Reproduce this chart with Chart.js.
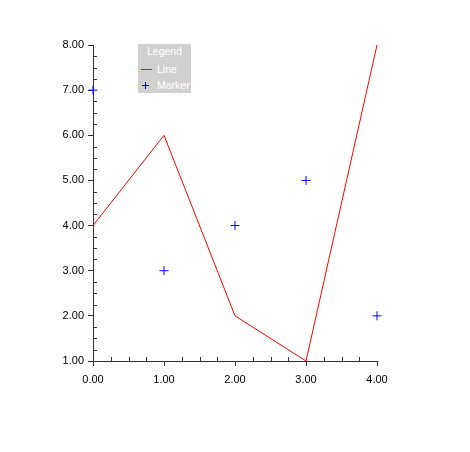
<!DOCTYPE html>
<html>
<head>
<meta charset="utf-8">
<script src="https://cdn.jsdelivr.net/npm/chart.js@4.4.0/dist/chart.umd.min.js"></script>
<style>
  html, body { margin: 0; padding: 0; background: #fff; }
  #wrap { position: relative; width: 470px; height: 452px; }
  #legend {
    position: absolute; left: 138px; top: 44px; width: 53px; height: 49px;
    background: #d0d0d0; color: #fff;
    font: 10.5px "Liberation Sans", Arial, sans-serif;
  }
  #legend .title { position: absolute; left: 0; width: 53px; top: 1px; text-align: center; }
  #legend .item { position: absolute; left: 0; height: 14px; line-height: 14px; }
  #legend .item span { position: absolute; left: 19px; white-space: nowrap; }
  #legend .sym { position: absolute; }
</style>
</head>
<body>
<div id="wrap">
  <canvas id="chart" width="470" height="452"></canvas>
  <div id="legend"></div>
</div>
<script>
const lineX = [0, 1, 2, 3, 4];
const lineY = [4, 6, 2, 1, 8];
const markerX = [0, 1, 2, 3, 4];
const markerY = [7, 3, 4, 5, 2];
const seriesNames = ["Line", "Marker"];
const seriesColors = ["#ff0000", "#0000ff"];
const legendTitle = "Legend";

const font = { family: "Liberation Sans, Arial, sans-serif", size: 11 };

// legend as html over the plot
function buildLegend() {
    const box = document.getElementById("legend");
    let html = `<div class="title">${legendTitle}</div>`;
    seriesNames.forEach((name, i) => {
        const top = 18 + i * 16;
        const c = seriesColors[i];
        let sym;
        if (i === 0) {
            sym = `<div class="sym" style="left:3px;top:7px;width:11px;height:1px;background:${c}"></div>`;
        } else {
            sym = `<div class="sym" style="left:4px;top:7px;width:7px;height:1px;background:${c}"></div>` +
                  `<div class="sym" style="left:7px;top:4px;width:1px;height:7px;background:${c}"></div>`;
        }
        html += `<div class="item" style="top:${top}px">${sym}<span>${name}</span></div>`;
    });
    box.innerHTML = html;
}

// minor ticks drawn inward
const minorTicks = {
    id: "minorTicks",
    afterDraw(chart) {
        const ctx = chart.ctx;
        const xs = chart.scales.x, ys = chart.scales.y;
        const a = chart.chartArea;
        ctx.save();
        ctx.strokeStyle = "#333";
        ctx.lineWidth = 1;
        ctx.beginPath();
        for (let v = 0; v < 4; v++) {
            for (let k = 1; k < 4; k++) {
                const px = Math.round(xs.getPixelForValue(v + k / 4)) + 0.5;
                ctx.moveTo(px, a.bottom);
                ctx.lineTo(px, a.bottom - 4);
            }
        }
        for (let v = 1; v < 8; v++) {
            for (let k = 1; k < 4; k++) {
                const py = Math.round(ys.getPixelForValue(v + k / 4)) + 0.5;
                ctx.moveTo(a.left, py);
                ctx.lineTo(a.left + 4, py);
            }
        }
        ctx.stroke();
        ctx.restore();
    }
};

new Chart(document.getElementById("chart"), {
    type: "scatter",
    data: {
        datasets: [
            {
                label: seriesNames[0],
                data: lineX.map((x, i) => ({ x: x, y: lineY[i] })),
                showLine: true,
                borderColor: seriesColors[0],
                borderWidth: 1,
                pointRadius: 0,
                tension: 0,
                clip: false
            },
            {
                label: seriesNames[1],
                data: markerX.map((x, i) => ({ x: x, y: markerY[i] })),
                showLine: false,
                borderColor: seriesColors[1],
                backgroundColor: seriesColors[1],
                pointStyle: "cross",
                pointRadius: 4.5,
                borderWidth: 1,
                clip: false
            }
        ]
    },
    options: {
        responsive: false,
        animation: false,
        layout: { padding: { top: 45, right: 93, left: 0, bottom: 0 } },
        plugins: { legend: { display: false }, tooltip: { enabled: false } },
        scales: {
            x: {
                type: "linear",
                min: 0, max: 4,
                ticks: { stepSize: 1, color: "#000", font: font, padding: 7, maxRotation: 0,
                    callback: v => v.toFixed(2) },
                grid: { drawOnChartArea: false, tickLength: 5, color: "#333" },
                border: { color: "#333" },
                afterFit: s => { s.height = 91; }
            },
            y: {
                type: "linear",
                min: 1, max: 8,
                ticks: { stepSize: 1, color: "#000", font: font, padding: 4,
                    callback: v => v.toFixed(2) },
                grid: { drawOnChartArea: false, tickLength: 5, color: "#333" },
                border: { color: "#333" },
                afterFit: s => { s.width = 93; }
            }
        }
    },
    plugins: [minorTicks]
});
buildLegend();
</script>
</body>
</html>
